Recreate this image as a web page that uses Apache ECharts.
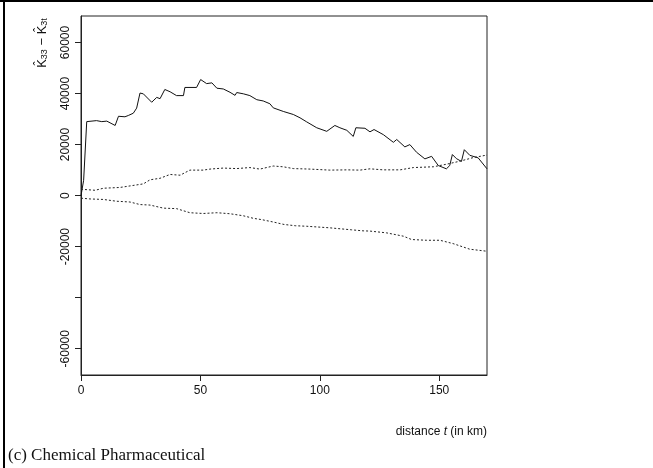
<!DOCTYPE html>
<html><head><meta charset="utf-8">
<script src="https://cdn.jsdelivr.net/npm/echarts@6/dist/echarts.min.js"></script>
<style>html,body{margin:0;padding:0;background:#fff}#c{width:653px;height:468px}</style>
</head><body><div id="c"></div>
<script>
// distance t (km) and K33 - K3t values
const solidX = [0, 1.1, 2.4, 6.5, 8.7, 10.8, 14.3, 15.7, 18.4, 19.8, 21.9, 23.3, 24.7, 26.1, 29.6, 31.7, 33.1, 35.1, 37.3, 40.0, 42.9, 43.5, 48.4, 50.1, 52.6, 54.8, 56.9, 59.6, 62.4, 64.5, 65.2, 68.0, 70.7, 73.6, 76.3, 79.1, 80.5, 84.7, 88.9, 91.7, 94.5, 98.7, 102.9, 106.3, 108.4, 111.3, 114.0, 115.1, 118.9, 121.0, 122.7, 126.6, 130.8, 132.2, 135.6, 137.7, 140.5, 144.0, 146.8, 149.6, 153.0, 154.4, 155.5, 157.2, 159.3, 160.5, 162.8, 166.3, 170];
const solidY = [0, 6000, 29000, 29400, 29000, 29200, 27500, 31100, 30900, 31400, 32300, 34300, 40200, 39900, 36600, 38500, 38000, 41600, 40700, 39200, 39200, 42400, 42400, 45500, 43900, 44200, 42100, 41800, 40500, 39300, 40400, 39900, 39200, 37600, 37100, 36000, 34400, 33000, 31800, 30500, 28900, 26600, 25200, 27500, 26600, 25600, 23200, 26600, 26400, 25000, 25900, 23900, 20900, 22000, 19100, 20000, 17000, 14400, 15400, 11800, 10500, 11800, 16100, 14500, 13400, 18000, 15800, 14800, 10500];
const upperX = [0, 5.9, 9.4, 16.3, 20.5, 26.1, 28.9, 33.1, 37.3, 41.5, 45.6, 51.2, 54.0, 59.6, 65.2, 70.7, 74.9, 80.5, 84.7, 88.9, 95.9, 104.2, 111.3, 116.8, 121.0, 126.6, 133.6, 139.2, 147.5, 153.0, 158.7, 164.2, 170];
const upperY = [2500, 2100, 2900, 3200, 3800, 4600, 6200, 6800, 8300, 8000, 10000, 10000, 10400, 10800, 10600, 11000, 10400, 11600, 11300, 10600, 10400, 10000, 10100, 10000, 10500, 10100, 10100, 11000, 11300, 12300, 13500, 14900, 15900];
const lowerX = [0, 3.8, 9.4, 14.9, 20.5, 24.7, 28.9, 34.5, 40.0, 45.6, 51.2, 56.9, 62.4, 68.0, 72.2, 75.6, 80.3, 85.0, 89.7, 94.4, 99.2, 103.9, 108.6, 113.3, 118.1, 121.0, 128.0, 135.0, 138.4, 144.7, 150.3, 155.8, 162.8, 170];
const lowerY = [-1000, -1300, -1500, -2200, -2500, -3500, -3700, -4900, -5100, -6700, -7000, -6700, -7100, -7900, -8900, -9400, -10300, -11300, -11800, -12000, -12300, -12600, -13000, -13400, -13800, -13900, -14600, -15900, -17200, -17500, -17500, -18800, -21000, -21800];
const xTicks = [0, 50, 100, 150];
const yTicks = [-60000, -40000, -20000, 0, 20000, 40000, 60000];
const yLabels = [-60000, -20000, 0, 20000, 40000, 60000];

const zip = (xs, ys) => xs.map((x, i) => [x, ys[i]]);
const chart = echarts.init(document.getElementById('c'), null, {renderer: 'canvas'});
const FONT = 'Liberation Sans, Arial, sans-serif';
chart.setOption({
  animation: false,
  backgroundColor: '#fff',
  grid: {left: 81, right: 166, top: 16, bottom: 93, show: true, borderColor: '#222', borderWidth: 1, backgroundColor: 'transparent'},
  xAxis: {
    type: 'value', min: 0, max: 170, interval: 50,
    axisLine: {show: true, onZero: false, lineStyle: {color: '#222', width: 1}},
    axisTick: {show: true, length: 6, inside: false, lineStyle: {color: '#222'}, customValues: xTicks},
    axisLabel: {show: true, margin: 10, fontFamily: FONT, fontSize: 12, color: '#111', customValues: xTicks, formatter: v => String(v)},
    splitLine: {show: false}
  },
  yAxis: {
    type: 'value', min: -70300, max: 70400,
    axisLine: {show: true, onZero: false, lineStyle: {color: '#222', width: 1}},
    axisTick: {show: true, length: 6, inside: false, lineStyle: {color: '#222'}, customValues: yTicks},
    axisLabel: {show: true, rotate: 90, margin: 9, fontFamily: FONT, fontSize: 12, color: '#111', customValues: yLabels, formatter: v => String(v)},
    splitLine: {show: false}
  },
  series: [
    {type: 'line', data: zip(solidX, solidY), showSymbol: false, symbol: 'none', lineStyle: {color: '#111', width: 1}, silent: true},
    {type: 'line', data: zip(upperX, upperY), showSymbol: false, symbol: 'none', lineStyle: {color: '#222', width: 1, type: [2, 2]}, silent: true},
    {type: 'line', data: zip(lowerX, lowerY), showSymbol: false, symbol: 'none', lineStyle: {color: '#222', width: 1, type: [2, 2]}, silent: true}
  ],
  graphic: [
    {type: 'rect', shape: {x: 0, y: 0, width: 653, height: 2}, style: {fill: '#000'}},
    {type: 'rect', shape: {x: 3, y: 0, width: 2, height: 468}, style: {fill: '#000'}},
    {type: 'text', x: 42, y: 43, rotation: Math.PI / 2,
      style: {text: '{a|K\u0302}{s|33}{a| \u2212 K\u0302}{s|3t}', align: 'center', verticalAlign: 'middle',
        rich: {a: {fontFamily: FONT, fontSize: 13, fill: '#111'}, s: {fontFamily: FONT, fontSize: 9, fill: '#111', verticalAlign: 'bottom', padding: [6, 0, 0, 0]}}}},
    {type: 'text', x: 487, y: 432,
      style: {text: '{a|distance }{i|t}{a| (in km)}', align: 'right', verticalAlign: 'middle',
        rich: {a: {fontFamily: FONT, fontSize: 12, fill: '#111'}, i: {fontFamily: FONT, fontSize: 12, fontStyle: 'italic', fill: '#111'}}}},
    {type: 'text', x: 8, y: 456,
      style: {text: '(c) Chemical Pharmaceutical', align: 'left', verticalAlign: 'middle', fontFamily: 'Liberation Serif, Times New Roman, serif', fontSize: 17, fill: '#111'}}
  ]
});
</script></body></html>
